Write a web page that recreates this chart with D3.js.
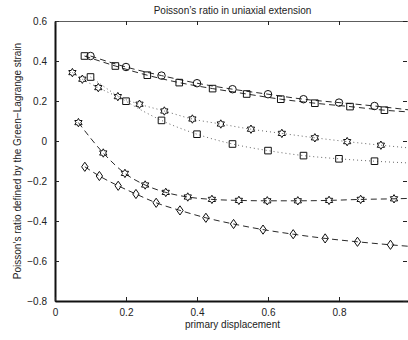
<!DOCTYPE html>
<html><head><meta charset="utf-8">
<script src="https://cdn.jsdelivr.net/npm/d3@7"></script>
<style>body{margin:0;background:#fff}svg{display:block}text{font-family:"Liberation Sans",Arial,Helvetica,sans-serif}</style>
</head><body><svg id="c" width="408" height="340"></svg>
<script>
// ---- data ----
const xTicks = [0, 0.2, 0.4, 0.6, 0.8];
const xTickLabels = ["0", "0.2", "0.4", "0.6", "0.8"];
const yTicks = [0.6, 0.4, 0.2, 0, -0.2, -0.4, -0.6, -0.8];
const yTickLabels = ["0.6", "0.4", "0.2", "0", "\u22120.2", "\u22120.4", "\u22120.6", "\u22120.8"];

const xCircTop = [0.1, 0.2, 0.3, 0.4, 0.5, 0.6, 0.7, 0.8, 0.9, 1.0];
const yCircTop = [0.425, 0.37, 0.327, 0.289, 0.259, 0.234, 0.209, 0.192, 0.175, 0.155];
const xSqTop = [0.083, 0.17, 0.26, 0.35, 0.444, 0.54, 0.636, 0.732, 0.831, 0.928, 1.0];
const ySqTop = [0.425, 0.375, 0.329, 0.292, 0.262, 0.235, 0.209, 0.189, 0.172, 0.154, 0.145];

const xStarDot = [0.049, 0.077, 0.122, 0.177, 0.238, 0.308, 0.387, 0.467, 0.552, 0.639, 0.732, 0.823, 0.918, 1.0];
const yStarDot = [0.342, 0.309, 0.267, 0.222, 0.184, 0.150, 0.110, 0.085, 0.059, 0.038, 0.016, -0.003, -0.021, -0.035];
const xSqDot = [0.1, 0.2, 0.3, 0.4, 0.5, 0.6, 0.7, 0.8, 0.9, 1.0];
const ySqDot = [0.32, 0.199, 0.103, 0.034, -0.015, -0.048, -0.073, -0.089, -0.101, -0.11];

const xStarDash = [0.066, 0.136, 0.197, 0.254, 0.312, 0.374, 0.442, 0.518, 0.598, 0.684, 0.772, 0.861, 0.955, 1.0];
const yStarDash = [0.092, -0.06, -0.162, -0.22, -0.257, -0.28, -0.292, -0.297, -0.299, -0.299, -0.297, -0.292, -0.289, -0.287];
const xDiam = [0.084, 0.125, 0.178, 0.228, 0.285, 0.352, 0.425, 0.503, 0.586, 0.671, 0.761, 0.852, 0.945, 1.0];
const yDiam = [-0.129, -0.175, -0.224, -0.265, -0.309, -0.347, -0.384, -0.415, -0.443, -0.466, -0.487, -0.504, -0.519, -0.527];

const series = [
  {xs: xCircTop, ys: yCircTop, marker: "circle", dash: "6,4"},
  {xs: xSqTop, ys: ySqTop, marker: "square", dash: "6,4"},
  {xs: xStarDot, ys: yStarDot, marker: "hexagram", dash: "1,3"},
  {xs: xSqDot, ys: ySqDot, marker: "square", dash: "1,3"},
  {xs: xStarDash, ys: yStarDash, marker: "hexagram", dash: "6,4"},
  {xs: xDiam, ys: yDiam, marker: "diamond", dash: "6,4"}
];

// ---- layout ----
const L = 55, R = 410, T = 21, B = 301;
const svg = d3.select("#c");
const x = d3.scaleLinear().domain([0, 1]).range([L, R]);
const y = d3.scaleLinear().domain([-0.8, 0.6]).range([B, T]);

// axes
const gL = svg.append("g").attr("transform", `translate(${L},0)`)
  .call(d3.axisLeft(y).tickValues(yTicks).tickFormat((d, i) => yTickLabels[i]).tickSizeInner(-4).tickSizeOuter(0).tickPadding(8));
const gB = svg.append("g").attr("transform", `translate(0,${B})`)
  .call(d3.axisBottom(x).tickValues(xTicks).tickFormat((d, i) => xTickLabels[i]).tickSizeInner(-4).tickSizeOuter(0).tickPadding(8));
const gT = svg.append("g").attr("transform", `translate(0,${T})`)
  .call(d3.axisTop(x).tickValues(xTicks).tickFormat("").tickSizeInner(-4).tickSizeOuter(0));
const gR = svg.append("g").attr("transform", `translate(${R - 3},0)`)
  .call(d3.axisRight(y).tickValues(yTicks).tickFormat("").tickSizeInner(-4).tickSizeOuter(0));
gR.select(".domain").remove();
[gL, gB, gT, gR].forEach(g => {
  g.selectAll("text").attr("font-size", 10).attr("fill", "#222");
  g.selectAll("line").attr("stroke", "#222");
});
gL.select(".domain").attr("stroke", "#111").attr("stroke-width", 2);
gB.select(".domain").attr("stroke", "#111").attr("stroke-width", 2);
gT.select(".domain").attr("stroke", "#333").attr("stroke-width", 0.8);

// lines
const line = d3.line().x(d => x(d[0])).y(d => y(d[1])).curve(d3.curveMonotoneX);
const plot = svg.append("g");
series.forEach(s => {
  const pts = s.xs.map((v, i) => [v, s.ys[i]]);
  plot.append("path").datum(pts).attr("d", line).attr("fill", "none")
    .attr("stroke", s.dash === "1,3" ? "#555" : "#111").attr("stroke-width", 0.9)
    .attr("stroke-dasharray", s.dash);
});

// markers
function hexagram(r) {
  const ri = r / Math.sqrt(3);
  let p = [];
  for (let k = 0; k < 12; k++) {
    const a = -Math.PI / 2 + k * Math.PI / 6;
    const rr = k % 2 === 0 ? r : ri;
    p.push([rr * Math.cos(a), rr * Math.sin(a)]);
  }
  return "M" + p.map(q => q[0].toFixed(2) + "," + q[1].toFixed(2)).join("L") + "Z";
}
function markerPath(m) {
  if (m === "circle") return d3.symbol(d3.symbolCircle, 44)();
  if (m === "square") return "M-3.3,-3.3H3.3V3.3H-3.3Z";
  if (m === "diamond") return "M0,-4.6L3.2,0L0,4.6L-3.2,0Z";
  return hexagram(4.2);
}
series.forEach(s => {
  const pts = s.xs.slice(0, s.xs.length - 1).map((v, i) => [v, s.ys[i]]);
  plot.selectAll(null).data(pts).enter().append("path")
    .attr("transform", d => `translate(${x(d[0])},${y(d[1])})`)
    .attr("d", markerPath(s.marker))
    .attr("fill", "none").attr("stroke", "#111").attr("stroke-width", 1);
});

// labels
svg.append("text").attr("x", (L + R) / 2).attr("y", 14).attr("text-anchor", "middle")
  .attr("font-size", 10).attr("fill", "#222").text("Poisson\u2019s ratio in uniaxial extension");
svg.append("text").attr("x", (L + R) / 2).attr("y", 328).attr("text-anchor", "middle")
  .attr("font-size", 10).attr("fill", "#222").text("primary displacement");
svg.append("text").attr("transform", `translate(21,${(T + B) / 2}) rotate(-90)`).attr("text-anchor", "middle")
  .attr("font-size", 10).attr("fill", "#222").text("Poisson\u2019s ratio defined by the Green\u2212Lagrange strain");
</script></body></html>
